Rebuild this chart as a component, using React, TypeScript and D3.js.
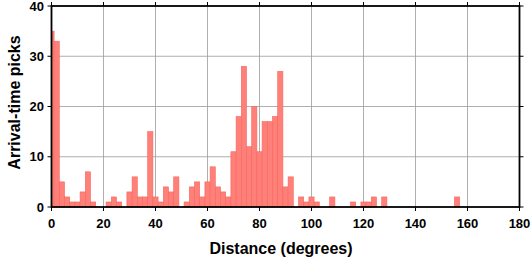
import React from "react";
import * as d3 from "d3";

const binCenters = [0, 2, 4, 6, 8, 10, 12, 14, 16, 18, 20, 22, 24, 26, 28, 30, 32, 34, 36, 38, 40, 42, 44, 46, 48, 50, 52, 54, 56, 58, 60, 62, 64, 66, 68, 70, 72, 74, 76, 78, 80, 82, 84, 86, 88, 90, 92, 94, 96, 98, 100, 102, 104, 106, 108, 110, 112, 114, 116, 118, 120, 122, 124, 126, 128, 156];
const counts = [35, 33, 5, 2, 1, 1, 3, 7, 1, 0, 0, 1, 2, 1, 0, 3, 6, 2, 2, 15, 2, 1, 4, 3, 6, 0, 1, 4, 5, 2, 5, 8, 4, 3, 2, 11, 18, 28, 12, 20, 11, 17, 17, 18, 27, 4, 6, 0, 2, 1, 2, 1, 0, 0, 2, 0, 0, 0, 1, 0, 1, 1, 2, 0, 2, 2];
const binWidth = 2;
const xTicks = [0, 20, 40, 60, 80, 100, 120, 140, 160, 180];
const yTicks = [0, 10, 20, 30, 40];
const xLabel = "Distance (degrees)";
const yLabel = "Arrival-time picks";

export default function App() {
  const W = 531, H = 258;
  const L = 51.5, R = 519.5, T = 6, B = 207;
  const x = d3.scaleLinear().domain([0, 180]).range([L, R]);
  const y = d3.scaleLinear().domain([0, 40]).range([B, T]);
  const font = "'Liberation Sans', Arial, Helvetica, sans-serif";
  return (
    <svg width={W} height={H} style={{ position: "absolute", left: 0, top: 0 }}>
      <rect x={0} y={0} width={W} height={H} fill="#fff" />
      {xTicks.slice(1, -1).map((t) => (
        <line key={"gx" + t} x1={x(t)} x2={x(t)} y1={T} y2={B} stroke="#9a9a9a" strokeWidth={0.8} />
      ))}
      {yTicks.slice(1, -1).map((t) => (
        <line key={"gy" + t} x1={L} x2={R} y1={y(t)} y2={y(t)} stroke="#9a9a9a" strokeWidth={0.8} />
      ))}
      {binCenters.map((c, i) => {
        const x0 = Math.max(0, c - binWidth / 2);
        const x1 = c + binWidth / 2;
        const v = counts[i];
        if (!v) return null;
        return (
          <rect key={"b" + i} x={x(x0)} y={y(v)} width={x(x1) - x(x0)} height={y(0) - y(v)}
            fill="#ff8079" stroke="#f5665f" strokeWidth={0.6} />
        );
      })}
      <rect x={L} y={T} width={R - L} height={B - T} fill="none" stroke="#000" strokeWidth={1.8} />
      {xTicks.map((t) => (
        <g key={"tx" + t}>
          <line x1={x(t)} x2={x(t)} y1={B} y2={B + 4} stroke="#000" strokeWidth={1} />
          <line x1={x(t)} x2={x(t)} y1={T} y2={T - 4} stroke="#000" strokeWidth={1} />
          <text x={x(t)} y={228} textAnchor="middle" fontFamily={font} fontWeight="bold" fontSize={13} fill="#000">{t}</text>
        </g>
      ))}
      {yTicks.map((t) => (
        <g key={"ty" + t}>
          <line x1={L} x2={L - 4} y1={y(t)} y2={y(t)} stroke="#000" strokeWidth={1} />
          <line x1={R} x2={R + 4} y1={y(t)} y2={y(t)} stroke="#000" strokeWidth={1} />
          <text x={44} y={y(t)} dy="0.36em" textAnchor="end" fontFamily={font} fontWeight="bold" fontSize={13} fill="#000">{t}</text>
        </g>
      ))}
      <text x={281} y={254} textAnchor="middle" fontFamily={font} fontWeight="bold" fontSize={16} fill="#000">{xLabel}</text>
      <text transform={`translate(14,${(T + B) / 2 - 4}) rotate(-90)`} dy="0.36em" textAnchor="middle" fontFamily={font} fontWeight="bold" fontSize={16} fill="#000">{yLabel}</text>
    </svg>
  );
}
